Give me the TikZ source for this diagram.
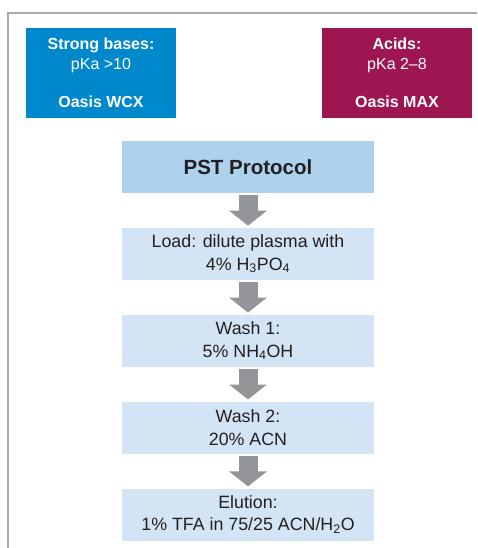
\documentclass[tikz,border=0pt]{standalone}
\usepackage{fontspec}
\setmainfont{Liberation Sans}
\usetikzlibrary{positioning,arrows.meta}

\definecolor{basesblue}{RGB}{0,136,204}
\definecolor{acidsred}{RGB}{157,22,82}
\definecolor{titlefill}{RGB}{174,210,238}
\definecolor{stepfill}{RGB}{211,229,245}
\definecolor{arrowgray}{RGB}{147,149,152}
\definecolor{framegray}{RGB}{170,170,170}
\definecolor{textdark}{RGB}{35,31,32}

\begin{document}
\begin{tikzpicture}[x=1pt,y=-1pt,
  every node/.style={text=textdark},
  topbox/.style={minimum width=150pt, minimum height=90pt, inner sep=0pt,
    text=white, align=center, font=\fontsize{16}{19.3}\selectfont},
  stepbox/.style={fill=stepfill, minimum width=252pt, minimum height=52pt,
    inner sep=0pt, align=center, font=\fontsize{17.8}{22.5}\selectfont},
  blockarrow/.style={draw=arrowgray, line width=19pt,
    -{Triangle[length=15pt,width=37pt]}, shorten <=2pt, shorten >=2pt}]

\useasboundingbox (0,0) rectangle (477,548);
\draw[framegray, line width=1.5pt] (477,13) -- (8,13) -- (8,548);

\node[topbox, fill=basesblue] (bases) at (101,73)
   {\textbf{Strong bases:}\\pKa >10\\[19.3pt]\textbf{Oasis WCX}};
\node[topbox, fill=acidsred] (acids) at (397,73)
   {\textbf{Acids:}\\pKa 2--8\\[19.3pt]\textbf{Oasis MAX}};

\node[stepbox, fill=titlefill, font=\fontsize{20.5}{24}\selectfont\bfseries] (pst) at (248,167) {PST Protocol};
\node[stepbox, below=34.5pt of pst] (load) {Load: dilute plasma with\\4\% H\textsubscript{3}PO\textsubscript{4}};
\node[stepbox, below=34.5pt of load] (washa) {Wash 1:\\5\% NH\textsubscript{4}OH};
\node[stepbox, below=34.5pt of washa] (washb) {Wash 2:\\20\% ACN};
\node[stepbox, below=34.5pt of washb] (elution) {Elution:\\1\% TFA in 75/25 ACN/H\textsubscript{2}O};

\foreach \a/\b in {pst/load,load/washa,washa/washb,washb/elution}
   {
	\draw[blockarrow] (\a.south) -- (\b.north);
   };
\end{tikzpicture}
\end{document}
